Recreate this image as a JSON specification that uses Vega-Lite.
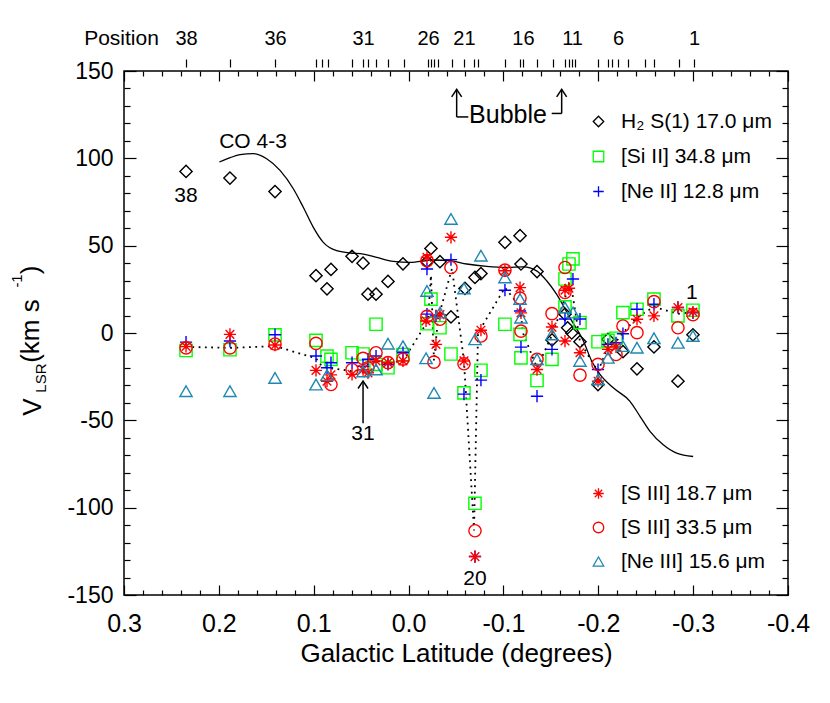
{
"$schema": "https://vega.github.io/schema/vega-lite/v6.json",
"width": 664, "height": 524,
"autosize": {"type": "none"},
"padding": {"left": 124, "top": 71, "right": 42, "bottom": 108},
"background": "white",
"config": {
 "view": {"stroke": "black", "strokeWidth": 1.5},
 "font": "Liberation Sans",
 "axis": {"grid": false, "domain": false, "tickColor": "black", "tickWidth": 1.2, "labelColor": "black", "titleColor": "black", "labelFont": "Liberation Sans", "titleFont": "Liberation Sans", "titleFontWeight": "normal", "labelFlush": false, "labelOverlap": false},
 "legend": {"labelFont": "Liberation Sans"}
},
"resolve": {"axis": {"x": "independent", "y": "independent"}, "scale": {"color": "independent", "shape": "independent"}},
"layer": [
 {
  "data": {"values": [
   {"b":0.1995,"v":97.9},{"b":0.188,"v":100.4},{"b":0.1777,"v":102.1},{"b":0.1637,"v":102.7},{"b":0.1496,"v":99.8},{"b":0.1355,"v":93.1},{"b":0.1215,"v":82.6},{"b":0.111,"v":72},{"b":0.1004,"v":60.5},{"b":0.0899,"v":51.9},{"b":0.0758,"v":47.1},{"b":0.0617,"v":45.8},{"b":0.0477,"v":45.2},{"b":0.0336,"v":43.3},{"b":0.016,"v":41},{"b":-0.0015,"v":40.4},{"b":-0.026,"v":41.8},{"b":-0.0437,"v":41.4},{"b":-0.0613,"v":39.5},{"b":-0.0824,"v":38.1},{"b":-0.1034,"v":37.5},{"b":-0.121,"v":37.9},{"b":-0.135,"v":35.6},{"b":-0.1456,"v":29.9},{"b":-0.156,"v":22.2},{"b":-0.17,"v":8.8},{"b":-0.1843,"v":-4.6},{"b":-0.193,"v":-16},{"b":-0.2018,"v":-23.7},{"b":-0.2158,"v":-31.4},{"b":-0.2334,"v":-39.1},{"b":-0.244,"v":-47.7},{"b":-0.2545,"v":-56.3},{"b":-0.2685,"v":-64},{"b":-0.2826,"v":-68.8},{"b":-0.3,"v":-70.7}
  ]},
  "mark": {"type": "line", "color": "black", "strokeWidth": 1.3, "interpolate": "monotone"},
  "encoding": {
   "x": {"field": "b", "type": "quantitative", "scale": {"domain": [0.3, -0.4], "nice": false, "zero": false},
    "axis": {"orient": "bottom", "values": [0.3,0.2,0.1,0,-0.1,-0.2,-0.3,-0.4], "tickSize": -10, "labelFontSize": 25, "labelPadding": 26, "labelExpr": "replace(format(datum.value,'.1f'),'\u2212','-')", "title": "Galactic Latitude (degrees)", "titleFontSize": 26, "titleY": 66, "titleBaseline": "alphabetic"}},
   "y": {"field": "v", "type": "quantitative", "scale": {"domain": [-150, 150], "nice": false, "zero": false},
    "axis": {"orient": "left", "values": [-150,-100,-50,0,50,100,150], "tickSize": -12, "labelFontSize": 23, "labelPadding": 23, "labelExpr": "''+datum.value", "title": null}}
  }
 },
 {
  "data": {"values": [
   {"b":0.2346,"v":-8},{"b":0.1883,"v":-8.5},{"b":0.1408,"v":-7.5},{"b":0.0976,"v":-14.5},{"b":0.0913,"v":-19},{"b":0.0849,"v":-20},{"b":0.0596,"v":-21.8},{"b":0.048,"v":-21},{"b":0.0428,"v":-18},{"b":0.0343,"v":-15.7},{"b":0.0217,"v":-18},{"b":0.0048,"v":-15},{"b":-0.0205,"v":7},{"b":-0.0236,"v":33},{"b":-0.0268,"v":-16},{"b":-0.031,"v":8},{"b":-0.0458,"v":37},{"b":-0.0584,"v":-16},{"b":-0.069,"v":-113},{"b":-0.0732,"v":0},{"b":-0.1016,"v":26},{"b":-0.1175,"v":15},{"b":-0.1206,"v":0},{"b":-0.1354,"v":-20},{"b":-0.1522,"v":0},{"b":-0.1649,"v":20},{"b":-0.1691,"v":28},{"b":-0.1723,"v":24},{"b":-0.1807,"v":-5},{"b":-0.1997,"v":-22},{"b":-0.2102,"v":-8},{"b":-0.2187,"v":-5},{"b":-0.226,"v":0},{"b":-0.2408,"v":9},{"b":-0.2587,"v":15},{"b":-0.284,"v":11},{"b":-0.2998,"v":12}
  ]},
  "mark": {"type": "line", "color": "black", "strokeWidth": 1.8, "strokeDash": [1.8, 4.5]},
  "encoding": {
   "x": {"field": "b", "type": "quantitative", "scale": {"domain": [0.3, -0.4], "nice": false, "zero": false},
    "axis": {"orient": "bottom", "values": [0.28,0.26,0.24,0.22,0.18,0.16,0.14,0.12,0.08,0.06,0.04,0.02,-0.02,-0.04,-0.06,-0.08,-0.12,-0.14,-0.16,-0.18,-0.22,-0.24,-0.26,-0.28,-0.32,-0.34,-0.36,-0.38], "tickSize": -5, "labels": false, "title": null}},
   "y": {"field": "v", "type": "quantitative", "scale": {"domain": [-150, 150], "nice": false, "zero": false},
    "axis": {"orient": "left", "values": [-140,-130,-120,-110,-90,-80,-70,-60,-40,-30,-20,-10,10,20,30,40,60,70,80,90,110,120,130,140], "tickSize": -6, "labels": false, "title": null}}
  }
 },
 {
  "data": {"values": [
   {"s":"H₂ S(1) 17.0 μm","b":0.2346,"v":92.5},{"s":"H₂ S(1) 17.0 μm","b":0.1883,"v":88.7},{"s":"H₂ S(1) 17.0 μm","b":0.1408,"v":81},{"s":"H₂ S(1) 17.0 μm","b":0.0976,"v":32.8},{"s":"H₂ S(1) 17.0 μm","b":0.086,"v":25.3},{"s":"H₂ S(1) 17.0 μm","b":0.0818,"v":36.4},{"s":"H₂ S(1) 17.0 μm","b":0.0596,"v":43.9},{"s":"H₂ S(1) 17.0 μm","b":0.048,"v":40},{"s":"H₂ S(1) 17.0 μm","b":0.0428,"v":22.2},{"s":"H₂ S(1) 17.0 μm","b":0.0343,"v":22.2},{"s":"H₂ S(1) 17.0 μm","b":0.0217,"v":29.5},{"s":"H₂ S(1) 17.0 μm","b":0.0059,"v":39.6},{"s":"H₂ S(1) 17.0 μm","b":-0.0194,"v":40.8},{"s":"H₂ S(1) 17.0 μm","b":-0.0236,"v":48.4},{"s":"H₂ S(1) 17.0 μm","b":-0.0331,"v":40.8},{"s":"H₂ S(1) 17.0 μm","b":-0.0447,"v":9.2},{"s":"H₂ S(1) 17.0 μm","b":-0.0595,"v":25.5},{"s":"H₂ S(1) 17.0 μm","b":-0.07,"v":31.8},{"s":"H₂ S(1) 17.0 μm","b":-0.0763,"v":34},{"s":"H₂ S(1) 17.0 μm","b":-0.1016,"v":51.9},{"s":"H₂ S(1) 17.0 μm","b":-0.1175,"v":55.7},{"s":"H₂ S(1) 17.0 μm","b":-0.1185,"v":39.5},{"s":"H₂ S(1) 17.0 μm","b":-0.1354,"v":35.2},{"s":"H₂ S(1) 17.0 μm","b":-0.1512,"v":-4},{"s":"H₂ S(1) 17.0 μm","b":-0.1649,"v":10.8},{"s":"H₂ S(1) 17.0 μm","b":-0.1677,"v":3},{"s":"H₂ S(1) 17.0 μm","b":-0.172,"v":0},{"s":"H₂ S(1) 17.0 μm","b":-0.1807,"v":-5},{"s":"H₂ S(1) 17.0 μm","b":-0.1997,"v":-29.5},{"s":"H₂ S(1) 17.0 μm","b":-0.2102,"v":-3.6},{"s":"H₂ S(1) 17.0 μm","b":-0.226,"v":-10.7},{"s":"H₂ S(1) 17.0 μm","b":-0.2408,"v":-20.5},{"s":"H₂ S(1) 17.0 μm","b":-0.2587,"v":-8},{"s":"H₂ S(1) 17.0 μm","b":-0.284,"v":-27.6},{"s":"H₂ S(1) 17.0 μm","b":-0.2998,"v":-1},
   {"s":"[Si II] 34.8 μm","b":0.2346,"v":-10},{"s":"[Si II] 34.8 μm","b":0.1883,"v":-9.6},{"s":"[Si II] 34.8 μm","b":0.1408,"v":-1.1},{"s":"[Si II] 34.8 μm","b":0.0976,"v":-4.2},{"s":"[Si II] 34.8 μm","b":0.086,"v":-13.2},{"s":"[Si II] 34.8 μm","b":0.0818,"v":-15.1},{"s":"[Si II] 34.8 μm","b":0.0596,"v":-11.3},{"s":"[Si II] 34.8 μm","b":0.048,"v":-12},{"s":"[Si II] 34.8 μm","b":0.0343,"v":5},{"s":"[Si II] 34.8 μm","b":0.0343,"v":-18},{"s":"[Si II] 34.8 μm","b":0.0217,"v":-19.9},{"s":"[Si II] 34.8 μm","b":0.0059,"v":-12.3},{"s":"[Si II] 34.8 μm","b":-0.0194,"v":5.3},{"s":"[Si II] 34.8 μm","b":-0.0236,"v":19.4},{"s":"[Si II] 34.8 μm","b":-0.0331,"v":3},{"s":"[Si II] 34.8 μm","b":-0.0447,"v":-12},{"s":"[Si II] 34.8 μm","b":-0.0584,"v":-34.3},{"s":"[Si II] 34.8 μm","b":-0.07,"v":-97.5},{"s":"[Si II] 34.8 μm","b":-0.0763,"v":-21.3},{"s":"[Si II] 34.8 μm","b":-0.1016,"v":5},{"s":"[Si II] 34.8 μm","b":-0.1175,"v":-0.8},{"s":"[Si II] 34.8 μm","b":-0.1185,"v":-14.2},{"s":"[Si II] 34.8 μm","b":-0.1354,"v":-27.2},{"s":"[Si II] 34.8 μm","b":-0.1512,"v":-15.1},{"s":"[Si II] 34.8 μm","b":-0.1649,"v":15},{"s":"[Si II] 34.8 μm","b":-0.1649,"v":30.9},{"s":"[Si II] 34.8 μm","b":-0.1691,"v":39.5},{"s":"[Si II] 34.8 μm","b":-0.1733,"v":42.4},{"s":"[Si II] 34.8 μm","b":-0.1807,"v":5.9},{"s":"[Si II] 34.8 μm","b":-0.1997,"v":-5},{"s":"[Si II] 34.8 μm","b":-0.2102,"v":-4.2},{"s":"[Si II] 34.8 μm","b":-0.2187,"v":-3},{"s":"[Si II] 34.8 μm","b":-0.226,"v":11.7},{"s":"[Si II] 34.8 μm","b":-0.2408,"v":13.6},{"s":"[Si II] 34.8 μm","b":-0.2587,"v":19.4},{"s":"[Si II] 34.8 μm","b":-0.284,"v":9.8},{"s":"[Si II] 34.8 μm","b":-0.2998,"v":13},
   {"s":"[Ne II] 12.8 μm","b":0.2346,"v":-5.2},{"s":"[Ne II] 12.8 μm","b":0.1883,"v":-4.6},{"s":"[Ne II] 12.8 μm","b":0.1408,"v":-1},{"s":"[Ne II] 12.8 μm","b":0.0976,"v":-13.2},{"s":"[Ne II] 12.8 μm","b":0.086,"v":-19.9},{"s":"[Ne II] 12.8 μm","b":0.0818,"v":-17},{"s":"[Ne II] 12.8 μm","b":0.0596,"v":-17},{"s":"[Ne II] 12.8 μm","b":0.048,"v":-19},{"s":"[Ne II] 12.8 μm","b":0.0428,"v":-15},{"s":"[Ne II] 12.8 μm","b":0.0343,"v":-13.2},{"s":"[Ne II] 12.8 μm","b":0.0217,"v":-18},{"s":"[Ne II] 12.8 μm","b":0.0059,"v":-11.3},{"s":"[Ne II] 12.8 μm","b":-0.0194,"v":36.6},{"s":"[Ne II] 12.8 μm","b":-0.0194,"v":10.8},{"s":"[Ne II] 12.8 μm","b":-0.0289,"v":9.8},{"s":"[Ne II] 12.8 μm","b":-0.0447,"v":42},{"s":"[Ne II] 12.8 μm","b":-0.0584,"v":-35},{"s":"[Ne II] 12.8 μm","b":-0.07,"v":-128},{"s":"[Ne II] 12.8 μm","b":-0.0763,"v":-27},{"s":"[Ne II] 12.8 μm","b":-0.1016,"v":24.5},{"s":"[Ne II] 12.8 μm","b":-0.1175,"v":12.6},{"s":"[Ne II] 12.8 μm","b":-0.1185,"v":-8.1},{"s":"[Ne II] 12.8 μm","b":-0.1354,"v":-36.2},{"s":"[Ne II] 12.8 μm","b":-0.1512,"v":-9.4},{"s":"[Ne II] 12.8 μm","b":-0.1649,"v":8},{"s":"[Ne II] 12.8 μm","b":-0.1733,"v":30.9},{"s":"[Ne II] 12.8 μm","b":-0.1807,"v":8},{"s":"[Ne II] 12.8 μm","b":-0.1997,"v":-20.9},{"s":"[Ne II] 12.8 μm","b":-0.2102,"v":-6.5},{"s":"[Ne II] 12.8 μm","b":-0.2187,"v":-5.6},{"s":"[Ne II] 12.8 μm","b":-0.226,"v":-0.4},{"s":"[Ne II] 12.8 μm","b":-0.2408,"v":13.6},{"s":"[Ne II] 12.8 μm","b":-0.2587,"v":16.5},{"s":"[Ne II] 12.8 μm","b":-0.284,"v":14.6},{"s":"[Ne II] 12.8 μm","b":-0.2998,"v":11.5}
  ]},
  "mark": {"type": "point", "filled": false, "strokeWidth": 1.4, "size": 150, "opacity": 1},
  "encoding": {
   "x": {"field": "b", "type": "quantitative", "scale": {"domain": [0.3, -0.4], "nice": false, "zero": false},
    "axis": {"orient": "top", "values": [0.3,0.2,0.1,0,-0.1,-0.2,-0.3,-0.4], "tickSize": -10, "labels": false, "title": null}},
   "y": {"field": "v", "type": "quantitative", "scale": {"domain": [-150, 150], "nice": false, "zero": false},
    "axis": {"orient": "right", "values": [-150,-100,-50,0,50,100,150], "tickSize": -12, "labels": false, "title": null}},
   "color": {"field": "s", "type": "nominal", "scale": {"domain": ["H₂ S(1) 17.0 μm","[Si II] 34.8 μm","[Ne II] 12.8 μm"], "range": ["black","#00ff00","#0000ff"]},
    "legend": {"orient": "none", "legendX": 464, "legendY": 40, "title": null, "padding": 0, "labelFontSize": 21, "symbolSize": 110, "symbolStrokeWidth": 1.3, "rowPadding": 13, "labelOffset": 12,
     "encode": {"labels": {"update": {"fill": {"signal": "datum.value == '[Si II] 34.8 μm' ? '#00ff00' : datum.value == '[Ne II] 12.8 μm' ? '#0000ff' : 'black'"}}}}}},
   "shape": {"field": "s", "type": "nominal", "scale": {"domain": ["H₂ S(1) 17.0 μm","[Si II] 34.8 μm","[Ne II] 12.8 μm"], "range": ["diamond","square","M-1,0H1M0,-1V1"]}}
  }
 },
 {
  "data": {"values": [
   {"s":"[S III] 18.7 μm","b":0.2346,"v":-7.7},{"s":"[S III] 18.7 μm","b":0.1883,"v":-0.8},{"s":"[S III] 18.7 μm","b":0.1408,"v":-6.9},{"s":"[S III] 18.7 μm","b":0.0976,"v":-21.4},{"s":"[S III] 18.7 μm","b":0.086,"v":-27.6},{"s":"[S III] 18.7 μm","b":0.0818,"v":-24},{"s":"[S III] 18.7 μm","b":0.0596,"v":-23.7},{"s":"[S III] 18.7 μm","b":0.048,"v":-21},{"s":"[S III] 18.7 μm","b":0.0428,"v":-22.8},{"s":"[S III] 18.7 μm","b":0.0343,"v":-16},{"s":"[S III] 18.7 μm","b":0.0217,"v":-17},{"s":"[S III] 18.7 μm","b":0.0059,"v":-16},{"s":"[S III] 18.7 μm","b":-0.0194,"v":43.3},{"s":"[S III] 18.7 μm","b":-0.0184,"v":6.9},{"s":"[S III] 18.7 μm","b":-0.0289,"v":-6.5},{"s":"[S III] 18.7 μm","b":-0.0331,"v":10.5},{"s":"[S III] 18.7 μm","b":-0.0447,"v":54.8},{"s":"[S III] 18.7 μm","b":-0.0584,"v":-16},{"s":"[S III] 18.7 μm","b":-0.07,"v":-128},{"s":"[S III] 18.7 μm","b":-0.0763,"v":1.6},{"s":"[S III] 18.7 μm","b":-0.1016,"v":35.6},{"s":"[S III] 18.7 μm","b":-0.1175,"v":26},{"s":"[S III] 18.7 μm","b":-0.1185,"v":11.5},{"s":"[S III] 18.7 μm","b":-0.1354,"v":-20.9},{"s":"[S III] 18.7 μm","b":-0.1512,"v":3.4},{"s":"[S III] 18.7 μm","b":-0.1649,"v":24.5},{"s":"[S III] 18.7 μm","b":-0.1691,"v":25.6},{"s":"[S III] 18.7 μm","b":-0.1649,"v":-4.6},{"s":"[S III] 18.7 μm","b":-0.1807,"v":-11.3},{"s":"[S III] 18.7 μm","b":-0.1997,"v":-27.6},{"s":"[S III] 18.7 μm","b":-0.2102,"v":-9.4},{"s":"[S III] 18.7 μm","b":-0.2187,"v":-8},{"s":"[S III] 18.7 μm","b":-0.2408,"v":7.9},{"s":"[S III] 18.7 μm","b":-0.2587,"v":9.8},{"s":"[S III] 18.7 μm","b":-0.284,"v":14.6},{"s":"[S III] 18.7 μm","b":-0.2998,"v":12},
   {"s":"[S III] 33.5 μm","b":0.2346,"v":-8.5},{"s":"[S III] 33.5 μm","b":0.1883,"v":-8.5},{"s":"[S III] 33.5 μm","b":0.1408,"v":-6.3},{"s":"[S III] 33.5 μm","b":0.0976,"v":-5.9},{"s":"[S III] 33.5 μm","b":0.0818,"v":-29.5},{"s":"[S III] 33.5 μm","b":0.0596,"v":-20.9},{"s":"[S III] 33.5 μm","b":0.048,"v":-14.5},{"s":"[S III] 33.5 μm","b":0.0428,"v":-19.9},{"s":"[S III] 33.5 μm","b":0.0343,"v":-11.3},{"s":"[S III] 33.5 μm","b":0.0217,"v":-17},{"s":"[S III] 33.5 μm","b":0.0059,"v":-15},{"s":"[S III] 33.5 μm","b":-0.0194,"v":41.4},{"s":"[S III] 33.5 μm","b":-0.0194,"v":9.5},{"s":"[S III] 33.5 μm","b":-0.0268,"v":-16.7},{"s":"[S III] 33.5 μm","b":-0.0331,"v":7.9},{"s":"[S III] 33.5 μm","b":-0.0447,"v":37.5},{"s":"[S III] 33.5 μm","b":-0.0584,"v":-17.6},{"s":"[S III] 33.5 μm","b":-0.07,"v":-113.2},{"s":"[S III] 33.5 μm","b":-0.0763,"v":-1.7},{"s":"[S III] 33.5 μm","b":-0.1016,"v":36},{"s":"[S III] 33.5 μm","b":-0.1175,"v":20},{"s":"[S III] 33.5 μm","b":-0.1185,"v":1.1},{"s":"[S III] 33.5 μm","b":-0.1354,"v":-15.1},{"s":"[S III] 33.5 μm","b":-0.1512,"v":11.1},{"s":"[S III] 33.5 μm","b":-0.1649,"v":37.5},{"s":"[S III] 33.5 μm","b":-0.1649,"v":23.2},{"s":"[S III] 33.5 μm","b":-0.1807,"v":-24.1},{"s":"[S III] 33.5 μm","b":-0.1997,"v":-18},{"s":"[S III] 33.5 μm","b":-0.2187,"v":-12.3},{"s":"[S III] 33.5 μm","b":-0.226,"v":4},{"s":"[S III] 33.5 μm","b":-0.2408,"v":0.2},{"s":"[S III] 33.5 μm","b":-0.2587,"v":18},{"s":"[S III] 33.5 μm","b":-0.284,"v":3},{"s":"[S III] 33.5 μm","b":-0.2998,"v":10.5},
   {"s":"[Ne III] 15.6 μm","b":0.2346,"v":-33.3},{"s":"[Ne III] 15.6 μm","b":0.1883,"v":-33.3},{"s":"[Ne III] 15.6 μm","b":0.1408,"v":-25.7},{"s":"[Ne III] 15.6 μm","b":0.0976,"v":-29.5},{"s":"[Ne III] 15.6 μm","b":0.086,"v":-24.1},{"s":"[Ne III] 15.6 μm","b":0.048,"v":-22},{"s":"[Ne III] 15.6 μm","b":0.0343,"v":-20.9},{"s":"[Ne III] 15.6 μm","b":0.0217,"v":-6.1},{"s":"[Ne III] 15.6 μm","b":0.0059,"v":-7.5},{"s":"[Ne III] 15.6 μm","b":-0.0184,"v":-14.5},{"s":"[Ne III] 15.6 μm","b":-0.0194,"v":24.1},{"s":"[Ne III] 15.6 μm","b":-0.0268,"v":-34.3},{"s":"[Ne III] 15.6 μm","b":-0.0331,"v":11.7},{"s":"[Ne III] 15.6 μm","b":-0.0447,"v":65.3},{"s":"[Ne III] 15.6 μm","b":-0.0584,"v":25.5},{"s":"[Ne III] 15.6 μm","b":-0.07,"v":-3.6},{"s":"[Ne III] 15.6 μm","b":-0.0763,"v":44.3},{"s":"[Ne III] 15.6 μm","b":-0.1016,"v":31.8},{"s":"[Ne III] 15.6 μm","b":-0.1175,"v":19.4},{"s":"[Ne III] 15.6 μm","b":-0.1185,"v":8.8},{"s":"[Ne III] 15.6 μm","b":-0.1354,"v":-15},{"s":"[Ne III] 15.6 μm","b":-0.1512,"v":-0.8},{"s":"[Ne III] 15.6 μm","b":-0.1649,"v":14.6},{"s":"[Ne III] 15.6 μm","b":-0.1733,"v":11.7},{"s":"[Ne III] 15.6 μm","b":-0.1807,"v":-16},{"s":"[Ne III] 15.6 μm","b":-0.1997,"v":-26.6},{"s":"[Ne III] 15.6 μm","b":-0.2102,"v":-14.2},{"s":"[Ne III] 15.6 μm","b":-0.226,"v":-7.5},{"s":"[Ne III] 15.6 μm","b":-0.2408,"v":-8.4},{"s":"[Ne III] 15.6 μm","b":-0.2587,"v":-3},{"s":"[Ne III] 15.6 μm","b":-0.284,"v":-5.6},{"s":"[Ne III] 15.6 μm","b":-0.2998,"v":-1.7}
  ]},
  "mark": {"type": "point", "filled": false, "strokeWidth": 1.4, "size": 150, "opacity": 1},
  "encoding": {
   "x": {"field": "b", "type": "quantitative", "scale": {"domain": [0.3, -0.4], "nice": false, "zero": false},
    "axis": {"orient": "top", "values": [0.28,0.26,0.24,0.22,0.18,0.16,0.14,0.12,0.08,0.06,0.04,0.02,-0.02,-0.04,-0.06,-0.08,-0.12,-0.14,-0.16,-0.18,-0.22,-0.24,-0.26,-0.28,-0.32,-0.34,-0.36,-0.38], "tickSize": -5, "labels": false, "title": null}},
   "y": {"field": "v", "type": "quantitative", "scale": {"domain": [-150, 150], "nice": false, "zero": false},
    "axis": {"orient": "right", "values": [-140,-130,-120,-110,-90,-80,-70,-60,-40,-30,-20,-10,10,20,30,40,60,70,80,90,110,120,130,140], "tickSize": -6, "labels": false, "title": null}},
   "color": {"field": "s", "type": "nominal", "scale": {"domain": ["[S III] 18.7 μm","[S III] 33.5 μm","[Ne III] 15.6 μm"], "range": ["#ff0000","#ff0000","#1e88b0"]},
    "legend": {"orient": "none", "legendX": 464, "legendY": 412, "title": null, "padding": 0, "labelFontSize": 21, "symbolSize": 110, "symbolStrokeWidth": 1.3, "rowPadding": 12, "labelOffset": 12,
     "encode": {"labels": {"update": {"fill": {"signal": "datum.value == '[Ne III] 15.6 μm' ? '#1e88b0' : '#ff0000'"}}}}}},
   "shape": {"field": "s", "type": "nominal", "scale": {"domain": ["[S III] 18.7 μm","[S III] 33.5 μm","[Ne III] 15.6 μm"], "range": ["M0,-1V1M-1,0H1M-0.707,-0.707L0.707,0.707M-0.707,0.707L0.707,-0.707","circle","triangle-up"]}}
  }
 },
 {
  "data": {"values": [
   {"t":"CO 4-3","b":0.164,"v":106},{"t":"38","b":0.2346,"v":75},{"t":"31","b":0.048,"v":-61.5},{"t":"20","b":-0.07,"v":-144.3},{"t":"1","b":-0.2985,"v":19.5}
  ]},
  "mark": {"type": "text", "fontSize": 21, "font": "Liberation Sans", "color": "black", "align": "center", "baseline": "alphabetic"},
  "encoding": {
   "x": {"field": "b", "type": "quantitative", "scale": {"domain": [0.3, -0.4], "nice": false, "zero": false},
    "axis": {"orient": "top", "offset": 4, "values": [0.2346,0.1883,0.1408,0.0976,0.0913,0.0849,0.0596,0.048,0.0428,0.0343,0.0217,0.0048,-0.0205,-0.0236,-0.0268,-0.031,-0.0458,-0.0584,-0.069,-0.0732,-0.1016,-0.1175,-0.1206,-0.1354,-0.1522,-0.1649,-0.1691,-0.1723,-0.1754,-0.1997,-0.2102,-0.2144,-0.2208,-0.2313,-0.2492,-0.2587,-0.2851,-0.3009],
     "tickSize": 8, "labelFontSize": 20, "labelPadding": 11,
     "labelExpr": "datum.value==0.2346?'38':datum.value==0.1408?'36':datum.value==0.048?'31':datum.value==-0.0205?'26':datum.value==-0.0584?'21':datum.value==-0.1206?'16':datum.value==-0.1723?'11':datum.value==-0.2208?'6':datum.value==-0.3009?'1':''",
     "title": "Position", "titleFontSize": 21, "titleAngle": 0, "titleAlign": "center", "titleBaseline": "middle", "titleX": -3, "titleY": -29}},
   "y": {"field": "v", "type": "quantitative", "scale": {"domain": [-150, 150], "nice": false, "zero": false}, "axis": null},
   "text": {"field": "t", "type": "nominal"}
  }
 },
 {
  "data": {"values": [{"t":"Bubble","b":-0.1048,"v":120.5}]},
  "mark": {"type": "text", "fontSize": 25, "font": "Liberation Sans", "color": "black", "align": "center", "baseline": "alphabetic"},
  "encoding": {
   "x": {"field": "b", "type": "quantitative", "scale": {"domain": [0.3, -0.4], "nice": false, "zero": false}, "axis": null},
   "y": {"field": "v", "type": "quantitative", "scale": {"domain": [-150, 150], "nice": false, "zero": false}, "axis": null},
   "text": {"field": "t", "type": "nominal"}
  }
 },
 {
  "data": {"values": [{"t":"V","b":0.3956,"v":-42.4},{"t":"(km s","b":0.398,"v":1.1},{"t":")","b":0.398,"v":36.1}]},
  "mark": {"type": "text", "fontSize": 26, "font": "Liberation Sans", "color": "black", "align": "center", "baseline": "middle", "angle": 270},
  "encoding": {
   "x": {"field": "b", "type": "quantitative", "scale": {"domain": [0.3, -0.4], "nice": false, "zero": false}, "axis": null},
   "y": {"field": "v", "type": "quantitative", "scale": {"domain": [-150, 150], "nice": false, "zero": false}, "axis": null},
   "text": {"field": "t", "type": "nominal"}
  }
 },
 {
  "data": {"values": [{"t":"LSR","b":0.388,"v":-25.8},{"t":"-1","b":0.4128,"v":29.8}]},
  "mark": {"type": "text", "fontSize": 15, "font": "Liberation Sans", "color": "black", "align": "center", "baseline": "middle", "angle": 270},
  "encoding": {
   "x": {"field": "b", "type": "quantitative", "scale": {"domain": [0.3, -0.4], "nice": false, "zero": false}, "axis": null},
   "y": {"field": "v", "type": "quantitative", "scale": {"domain": [-150, 150], "nice": false, "zero": false}, "axis": null},
   "text": {"field": "t", "type": "nominal"}
  }
 },
 {
  "data": {"values": [
   {"b1":-0.0507,"v1":139.5,"b2":-0.0507,"v2":123.7},{"b1":-0.0507,"v1":123.7,"b2":-0.063,"v2":123.7},{"b1":-0.1614,"v1":139.5,"b2":-0.1614,"v2":125.7},{"b1":-0.1509,"v1":125.7,"b2":-0.1614,"v2":125.7},{"b1":0.048,"v1":-27.5,"b2":0.048,"v2":-51.6}
  ]},
  "mark": {"type": "rule", "color": "black", "strokeWidth": 1.5},
  "encoding": {
   "x": {"field": "b1", "type": "quantitative", "scale": {"domain": [0.3, -0.4], "nice": false, "zero": false}, "axis": null},
   "x2": {"field": "b2"},
   "y": {"field": "v1", "type": "quantitative", "scale": {"domain": [-150, 150], "nice": false, "zero": false}, "axis": null},
   "y2": {"field": "v2"}
  }
 },
 {
  "data": {"values": [{"b":-0.0507,"v":139.5},{"b":-0.1614,"v":139.5},{"b":0.048,"v":-27.5}]},
  "mark": {"type": "point", "shape": "M-1,1.5L0,0L1,1.5", "size": 100, "filled": false, "color": "black", "strokeWidth": 1.5, "opacity": 1},
  "encoding": {
   "x": {"field": "b", "type": "quantitative", "scale": {"domain": [0.3, -0.4], "nice": false, "zero": false}, "axis": null},
   "y": {"field": "v", "type": "quantitative", "scale": {"domain": [-150, 150], "nice": false, "zero": false}, "axis": null}
  }
 }
]
}
